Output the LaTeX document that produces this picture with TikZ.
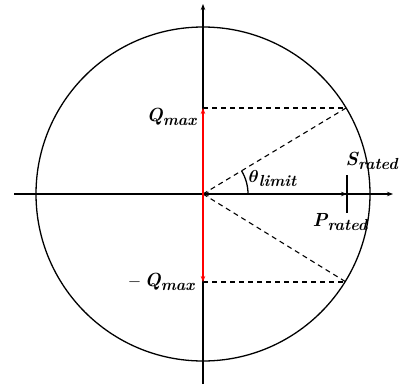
\documentclass[tikz,border=0pt]{standalone}
\usepackage{amsmath,bm}
\usetikzlibrary{arrows.meta}
\newcommand\mylab[2]{#1\raisebox{-4.5pt}{\fontsize{16}{17}\selectfont\bfseries\itshape #2}}
\begin{document}
\begin{tikzpicture}[x=1pt,y=-1pt,line width=1.3pt,
  >={Stealth[length=6pt,width=4.5pt]},
  lbl/.style={font=\fontsize{19}{21}\selectfont\bfseries\itshape,inner sep=0pt},
  dsh/.style={dash pattern=on 5pt off 4pt,line width=1.1pt}]
\useasboundingbox (0,0) rectangle (399,386);
\coordinate (O) at (203,194);
\coordinate (top) at (203,4);
\coordinate (bot) at (203,384);
\coordinate (left) at (14,194);
\coordinate (right) at (393,194);
\coordinate (Q) at (203,108);
\coordinate (mQ) at (203,282);
\coordinate (A) at (346,108);
\coordinate (B) at (346,282);
\coordinate (P) at (347,194);
\coordinate (Pt) at (347,175);
\coordinate (Pb) at (347,213);
\draw (O) circle (167pt);
\draw[->] (bot) -- (top);
\draw[->] (left) -- (right);
\draw[<->] (O) -- (P);
\draw (Pt) -- (Pb);
\draw[dsh] (Q) -- (A);
\draw[dsh] (O) -- (A);
\draw[dsh] (mQ) -- (B);
\draw[dsh] (O) -- (B);
\draw[red,->] (O) -- (Q);
\draw[red,->] (O) -- (mQ);
\draw ([shift={(45pt,0pt)}]O) arc[start angle=0,end angle=31,radius=45pt];
\node[lbl,anchor=base east] (lq) at (197,121) {\mylab{Q}{max}};
\node[lbl,anchor=base east] (lmq) at (195,286) {\mylab{\normalfont\fontsize{19}{21}\selectfont$-$\,\bfseries\itshape Q}{max}};
\node[lbl,anchor=base west] (ls) at (345,165) {\mylab{S}{rated}};
\node[lbl,anchor=base west] (lp) at (312,226) {\mylab{P}{rated}};
\node[lbl,anchor=base west] (lt) at (248,182) {\mylab{$\bm{\theta}$}{limit}};
\end{tikzpicture}
\end{document}
